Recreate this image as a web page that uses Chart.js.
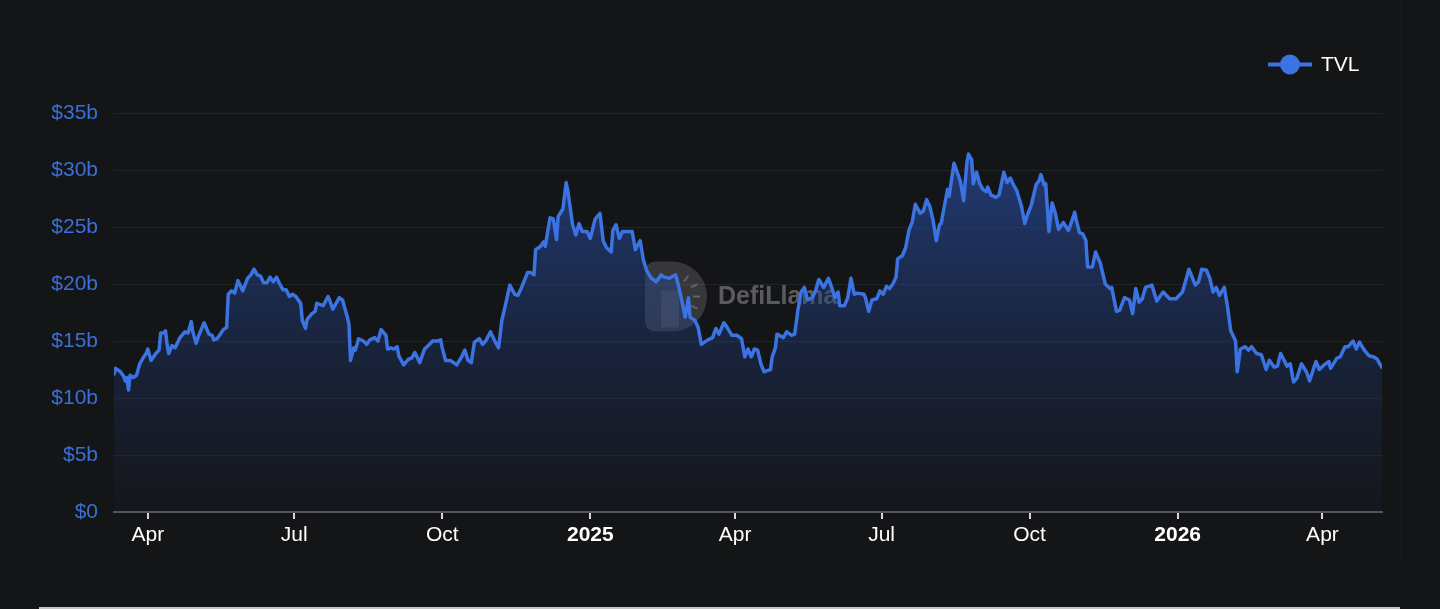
<!DOCTYPE html>
<html>
<head>
<meta charset="utf-8">
<script src="https://cdn.jsdelivr.net/npm/chart.js@4.4.1/dist/chart.umd.min.js"></script>
<style>
html,body{margin:0;padding:0;background:#141517;}
#wrap{position:relative;width:1440px;height:609px;overflow:hidden;}
canvas{display:block;}
#edge{position:absolute;left:39px;width:1361px;top:607px;height:2px;background:#c4c4c4;}
#vline{position:absolute;left:1400px;top:0;width:1px;height:560px;background:#191a1d;}
</style>
</head>
<body>
<div id="wrap">
<canvas id="chart" width="1440" height="609" style="width:1440px;height:609px"></canvas>
<div id="vline"></div>
<div id="edge"></div>
</div>
<script>
// Days since 2024-03-11
const startDate = '2024-03-11';
const days = [
0,1,4,6,7,8,9,10,12,14,16,18,20,21,23,26,28,29,31,32,33,34,36,38,41,44,46,48,49,51,53,56,59,61,62,64,66,68,70,71,73,75,77,80,83,85,87,89,91,93,95,97,99,101,103,105,107,109,111,113,116,117,119,120,123,125,126,130,133,134,136,140,142,145,146,147,149,150,152,155,157,159,162,164,166,169,170,172,174,176,177,180,183,185,187,190,193,196,198,201,203,
204,206,209,213,216,218,220,222,224,227,229,231,234,237,239,241,243,246,249,251,253,257,259,261,262,265,267,268,270,271,273,275,276,279,281,282,285,287,289,291,294,296,299,302,304,306,309,310,312,314,316,319,322,324,327,329,331,334,337,340,342,345,349,350,352,355,357,358,361,363,365,369,372,374,376,379,381,384,387,390,392,394,
396,398,400,402,404,406,408,409,411,412,416,418,421,423,425,427,429,431,434,436,438,441,444,446,448,450,451,454,456,458,460,462,466,467,469,471,474,476,478,480,482,484,486,487,490,492,494,496,498,501,503,505,507,509,511,513,514,516,518,519,522,524,526,528,530,531,533,534,536,538,540,542,543,545,548,550,553,555,557,559,561,564,566,568,570,573,575,576,578,579,581,583,585,587,590,593,594,597,598,600,602,
604,605,608,610,613,616,619,620,623,625,628,631,633,635,637,639,641,645,648,652,656,660,664,668,672,674,676,679,681,683,685,687,690,692,694,697,698,700,703,705,707,710,713,716,718,721,723,725,729,731,733,735,738,741,743,746,747,749,752,755,756,760,762,763,765,767,770,772,774,777,780,783,785,787,788
];
// TVL in billions USD
const tvl = [
12.1,12.6,12.3,11.9,11.5,11.8,10.7,12.0,11.8,12.0,13.0,13.5,13.9,14.3,13.3,13.9,14.2,15.7,15.7,15.9,14.7,13.9,14.6,14.4,15.3,15.8,15.7,16.7,15.8,14.8,15.6,16.6,15.6,15.5,15.1,15.2,15.6,16.0,16.2,19.1,19.4,19.2,20.3,19.4,20.5,20.8,21.3,20.8,20.7,20.1,20.1,20.6,20.2,20.6,20.0,19.5,19.5,18.9,19.1,18.9,18.3,16.8,16.1,16.9,17.4,17.6,18.3,18.1,18.9,18.6,17.8,18.8,18.6,17.1,16.5,13.3,14.4,14.2,15.2,15.0,14.7,15.1,15.3,15.0,16.0,15.5,14.3,14.4,14.3,14.5,13.7,12.9,13.4,13.5,14.0,13.1,14.3,14.7,15.0,15.0,15.1,
14.4,13.3,13.3,12.9,13.6,14.2,13.3,13.1,14.9,15.2,14.7,15.0,15.8,14.9,14.4,16.8,18.0,19.9,19.1,19.0,19.6,21.0,21.0,20.8,23.0,23.3,23.7,23.3,25.0,25.8,25.7,23.9,25.9,26.6,28.9,28.2,25.2,24.3,25.3,24.6,24.6,24.0,25.7,26.2,23.8,23.2,22.8,24.7,25.2,24.0,24.6,24.6,24.6,23.0,23.8,22.1,21.2,20.5,20.2,20.8,20.6,20.5,20.8,20.3,19.1,17.1,18.8,17.1,16.8,16.2,14.7,15.1,15.3,16.1,15.6,16.6,16.2,15.5,15.5,15.2,13.6,14.3,
13.6,14.3,14.2,13.0,12.3,12.4,12.5,13.6,14.4,15.6,15.3,15.8,15.5,15.6,17.7,19.3,19.7,18.6,18.8,19.4,20.4,19.7,20.5,19.7,18.8,19.3,18.1,18.1,18.8,20.5,19.1,19.2,19.1,18.8,17.6,18.6,18.7,19.4,19.1,19.8,19.6,20.0,20.6,22.2,22.5,23.2,24.7,25.4,27.0,26.2,26.4,27.4,26.8,25.6,23.8,25.2,25.3,26.8,28.3,27.7,30.6,29.8,29.0,27.3,30.6,31.4,30.9,28.8,29.8,28.8,28.3,28.1,28.5,27.8,27.6,27.8,29.8,28.9,29.3,28.7,28.2,26.8,25.3,26.2,26.9,28.7,29.1,29.6,28.7,28.8,24.6,27.1,26.2,24.8,25.4,24.7,25.0,26.3,25.6,24.5,24.4,
23.8,21.5,21.5,22.8,21.8,20.0,19.6,19.7,17.6,17.7,18.8,18.6,17.4,19.6,18.4,18.7,19.7,19.9,18.5,19.3,18.7,18.7,19.3,21.3,19.9,20.2,21.3,21.2,20.5,19.3,19.7,19.0,19.7,18.0,15.9,15.0,12.3,14.3,14.5,14.2,14.5,13.9,13.8,12.5,13.3,12.7,12.8,13.9,12.8,13.0,11.4,11.7,13.0,12.3,11.5,12.8,13.2,12.5,12.9,13.2,12.6,13.5,13.6,13.9,14.5,14.5,15.0,14.3,14.9,14.2,13.7,13.6,13.4,12.9,12.7
];
// X tick positions (days since start) and labels
const tickDays = [21,112,204,296,386,477,569,661,751];
const tickLabels = ['Apr','Jul','Oct','2025','Apr','Jul','Oct','2026','Apr'];
const yearTicks = ['2025','2026'];
const yMax = 35, yStep = 5;

const lineColor = '#3b73e2';
const fontFamily = '"Liberation Sans", Arial, Helvetica, sans-serif';

const watermark = {
  id: 'watermark',
  beforeDatasetsDraw(chart) {
    const ctx = chart.ctx;
    const a = chart.chartArea;
    const cx = (a.left + a.right) / 2;
    const cy = (a.top + a.bottom) / 2 - 16;
    ctx.save();
    // D-shaped logo
    const lx = cx - 103, r = 35, h = 70, top = cy - r, rad = 12, mid = lx + 27;
    ctx.fillStyle = 'rgba(255,255,255,0.15)';
    ctx.beginPath();
    ctx.moveTo(lx + rad, top);
    ctx.lineTo(mid, top);
    ctx.arc(mid, cy, r, -Math.PI / 2, Math.PI / 2);
    ctx.lineTo(lx + rad, top + h);
    ctx.quadraticCurveTo(lx, top + h, lx, top + h - rad);
    ctx.lineTo(lx, top + rad);
    ctx.quadraticCurveTo(lx, top, lx + rad, top);
    ctx.fill();
    ctx.fillStyle = 'rgba(255,255,255,0.10)';
    ctx.fillRect(lx + 16, cy - 6, 18, 37);
    ctx.strokeStyle = 'rgba(255,255,255,0.22)';
    ctx.lineWidth = 2;
    [[-0.9, 0.55], [-0.45, 0.6], [0, 0.6], [0.45, 0.6]].forEach(([ang, k]) => {
      ctx.beginPath();
      ctx.moveTo(mid + Math.cos(ang) * r * k, cy + Math.sin(ang) * r * k);
      ctx.lineTo(mid + Math.cos(ang) * r * (k + 0.2), cy + Math.sin(ang) * r * (k + 0.2));
      ctx.stroke();
    });
    ctx.fillStyle = 'rgba(255,255,255,0.30)';
    ctx.font = 'bold 25px ' + fontFamily;
    ctx.textBaseline = 'middle';
    ctx.fillText('DefiLlama', cx - 30, cy + 1);
    ctx.restore();
  }
};

const legendPlugin = {
  id: 'tvlLegend',
  afterDraw(chart) {
    const ctx = chart.ctx;
    const ds = chart.data.datasets[0];
    const x0 = chart.chartArea.right - 114, y0 = 64.5;
    ctx.save();
    ctx.strokeStyle = lineColor;
    ctx.lineWidth = 4;
    ctx.beginPath();
    ctx.moveTo(x0, y0);
    ctx.lineTo(x0 + 44, y0);
    ctx.stroke();
    ctx.fillStyle = lineColor;
    ctx.beginPath();
    ctx.arc(x0 + 22, y0, 10, 0, Math.PI * 2);
    ctx.fill();
    ctx.fillStyle = '#ffffff';
    ctx.font = '21px ' + fontFamily;
    ctx.textBaseline = 'middle';
    ctx.fillText(ds.label, x0 + 53, y0 + 1);
    ctx.restore();
  }
};

new Chart(document.getElementById('chart'), {
  type: 'line',
  data: {
    datasets: [{
      label: 'TVL',
      data: days.map((d, i) => ({ x: d, y: tvl[i] })),
      borderColor: lineColor,
      borderWidth: 3.5,
      pointRadius: 0,
      tension: 0,
      borderJoinStyle: 'round',
      borderCapStyle: 'round',
      fill: 'origin',
      backgroundColor(ctx) {
        const area = ctx.chart.chartArea;
        if (!area) return 'rgba(40,70,140,0.4)';
        const g = ctx.chart.ctx.createLinearGradient(0, area.top, 0, area.bottom);
        g.addColorStop(0, 'rgba(44,84,175,0.72)');
        g.addColorStop(0.5, 'rgba(36,66,135,0.42)');
        g.addColorStop(1, 'rgba(30,50,95,0.08)');
        return g;
      }
    }]
  },
  options: {
    responsive: false,
    animation: false,
    devicePixelRatio: 1,
    layout: { padding: { top: 113, right: 58, bottom: 0, left: 0 } },
    plugins: { legend: { display: false }, tooltip: { enabled: false } },
    scales: {
      x: {
        type: 'linear',
        min: 0,
        max: days[days.length - 1],
        afterBuildTicks(scale) { scale.ticks = tickDays.map(v => ({ value: v })); },
        afterFit(scale) { scale.height = 97; },
        border: { display: true, color: '#55575b', width: 2 },
        grid: { drawOnChartArea: false, drawTicks: true, tickLength: 7, color: '#d8d8d8', lineWidth: 2 },
        ticks: {
          autoSkip: false,
          maxRotation: 0,
          padding: 4,
          color: '#ffffff',
          callback: (v, i) => tickLabels[i],
          font: (ctx) => ({
            family: fontFamily,
            size: 21,
            weight: (ctx.tick && yearTicks.includes(tickLabels[ctx.index])) ? 'bold' : 'normal'
          })
        }
      },
      y: {
        min: 0,
        max: yMax,
        afterFit(scale) { scale.width = 114; },
        border: { display: false },
        grid: { color: '#222327', lineWidth: 1, drawTicks: false },
        ticks: {
          stepSize: yStep,
          padding: 16,
          color: '#3b6fd8',
          font: { family: fontFamily, size: 21 },
          callback: (v) => v === 0 ? '$0' : '$' + v + 'b'
        }
      }
    }
  },
  plugins: [watermark, legendPlugin]
});
</script>
</body>
</html>
